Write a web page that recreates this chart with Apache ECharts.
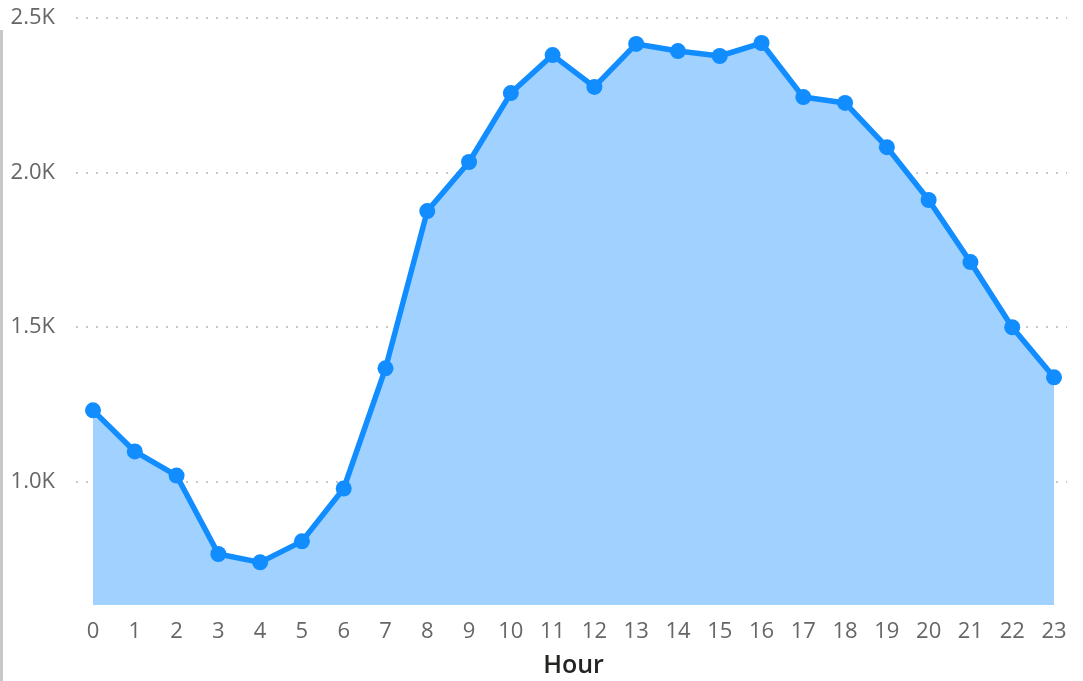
<!DOCTYPE html>
<html>
<head>
<meta charset="utf-8">
<script src="https://cdn.jsdelivr.net/npm/echarts@6/dist/echarts.min.js"></script>
<style>
  html, body { margin: 0; padding: 0; background: #fff; }
  #chart { width: 1083px; height: 681px; }
</style>
</head>
<body>
<div id="chart"></div>
<script>
// hours of the day
var hours = ['0','1','2','3','4','5','6','7','8','9','10','11','12','13','14','15','16','17','18','19','20','21','22','23'];
// count per hour
var counts = [1230, 1097, 1019, 765, 738, 806, 977, 1366, 1875, 2034, 2257, 2380, 2277, 2416, 2393, 2377, 2419, 2244, 2225, 2082, 1911, 1710, 1499, 1337];
var yMin = 600, yMax = 2500;
var tickStep = 500;

var blue = '#118DFF';
var myChart = echarts.init(document.getElementById('chart'));

// grid 1 starts one step of 100 lower so its ticks land on 500, 1000, ...
var pxPerUnit = (605 - 18) / (yMax - yMin);

myChart.setOption({
  animation: false,
  textStyle: { fontFamily: 'Open Sans, Noto Sans, sans-serif' },
  // grid 0 draws the data, grid 1 only the dotted lines and y labels (they run a bit wider)
  grid: [
    { left: 93, right: 29, top: 18, bottom: 76, outerBoundsMode: 'none' },
    { left: 76, right: 16, top: 18, bottom: 681 - (605 + 100 * pxPerUnit), outerBoundsMode: 'none' }
  ],
  xAxis: [{
    gridIndex: 0,
    type: 'category',
    data: hours,
    boundaryGap: false,
    axisLine: { show: false },
    axisTick: { show: false },
    axisLabel: { color: '#666666', fontSize: 22, margin: 16 },
    name: 'Hour',
    nameLocation: 'middle',
    nameGap: 48,
    nameTextStyle: { color: '#252423', fontSize: 25, fontWeight: 600 }
  }, {
    gridIndex: 1,
    type: 'value',
    show: false
  }],
  yAxis: [{
    gridIndex: 0,
    type: 'value',
    min: yMin,
    max: yMax,
    show: false
  }, {
    gridIndex: 1,
    type: 'value',
    min: yMin - 100,
    max: yMax,
    interval: tickStep,
    axisLine: { show: false },
    axisTick: { show: false },
    axisLabel: {
      color: '#666666', fontSize: 22, margin: 21,
      showMinLabel: false,
      formatter: function (v) { return (v / 1000).toFixed(1) + 'K'; }
    },
    splitLine: {
      showMinLine: false,
      lineStyle: { color: '#c8c8c8', type: [2, 8], width: 2 }
    }
  }],
  graphic: [{
    type: 'rect',
    left: 0, top: 30,
    shape: { width: 3, height: 651 },
    style: { fill: '#c8c8c8' }
  }],
  series: [{
    type: 'line',
    xAxisIndex: 0,
    yAxisIndex: 0,
    data: counts,
    symbol: 'circle',
    symbolSize: 16,
    lineStyle: { color: blue, width: 5.5 },
    itemStyle: { color: blue },
    areaStyle: { color: '#A0D1FF', opacity: 1 }
  }]
});
</script>
</body>
</html>
